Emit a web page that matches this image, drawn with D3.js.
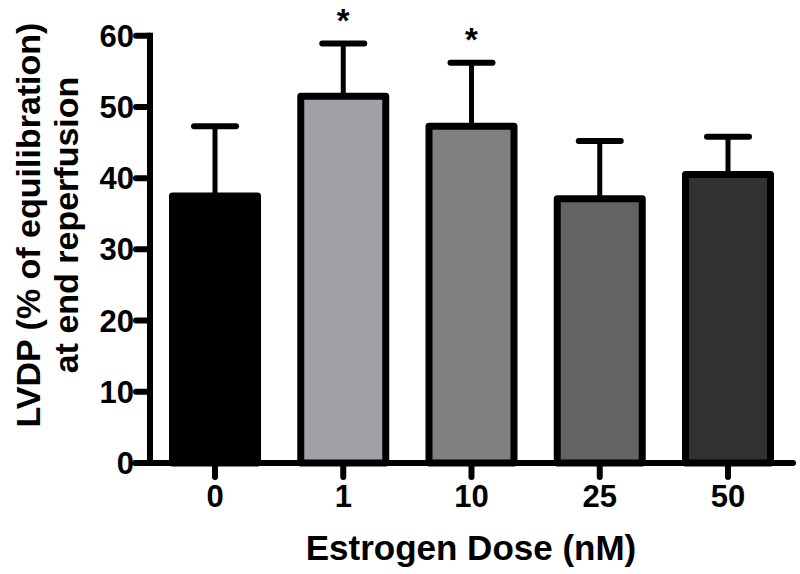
<!DOCTYPE html>
<html>
<head>
<meta charset="utf-8">
<script src="https://cdn.jsdelivr.net/npm/d3@7"></script>
<style>
  body { margin: 0; background: #fff; }
  svg { display: block; font-family: "Liberation Sans", Arial, sans-serif; font-weight: bold; }
</style>
</head>
<body>
<svg id="viz" width="800" height="574"></svg>
<script>
// LVDP at end reperfusion by estrogen dose
const doses = ["0", "1", "10", "25", "50"];
const means = [37.5, 51.5, 47.3, 37.1, 40.5];
const errUpper = [47.3, 58.9, 56.2, 45.2, 45.8];
const fills = ["#000000", "#a2a1a6", "#808080", "#636363", "#323232"];
const significant = [false, true, true, false, false];
const yTicks = [0, 10, 20, 30, 40, 50, 60];

const svg = d3.select("#viz");

const yScale = d3.scaleLinear().domain([0, 60]).range([463, 35.7]);
const xScale = d3.scalePoint().domain(doses).range([215, 728]);

const barW = 85;
const axisX = 150;

// error bars (drawn first so bars sit on top)
doses.forEach((d, i) => {
    const cx = xScale(d);
    svg.append("line")
        .attr("x1", cx).attr("x2", cx)
        .attr("y1", yScale(means[i])).attr("y2", yScale(errUpper[i]))
        .attr("stroke", "#000").attr("stroke-width", 5);
    svg.append("line")
        .attr("x1", cx - 21).attr("x2", cx + 21)
        .attr("y1", yScale(errUpper[i])).attr("y2", yScale(errUpper[i]))
        .attr("stroke", "#000").attr("stroke-width", 6)
        .attr("stroke-linecap", "round");
    if (significant[i]) {
        svg.append("text")
            .attr("x", cx)
            .attr("y", yScale(errUpper[i]) - 12)
            .attr("text-anchor", "middle")
            .attr("font-size", "33px")
            .text("*");
    }
});

// bars
doses.forEach((d, i) => {
    const cx = xScale(d);
    svg.append("rect")
        .attr("x", cx - barW / 2)
        .attr("y", yScale(means[i]))
        .attr("width", barW)
        .attr("height", yScale(0) - yScale(means[i]))
        .attr("fill", fills[i])
        .attr("stroke", "#000")
        .attr("stroke-width", 7)
        .attr("stroke-linejoin", "round");
});

// y axis
svg.append("line")
    .attr("x1", axisX).attr("x2", axisX)
    .attr("y1", yScale(60) - 3).attr("y2", yScale(0))
    .attr("stroke", "#000").attr("stroke-width", 6);

yTicks.forEach(t => {
    svg.append("line")
        .attr("x1", axisX - 14).attr("x2", axisX)
        .attr("y1", yScale(t)).attr("y2", yScale(t))
        .attr("stroke", "#000").attr("stroke-width", 6)
        .attr("stroke-linecap", "round");
    svg.append("text")
        .attr("x", axisX - 16)
        .attr("y", yScale(t) + 11)
        .attr("text-anchor", "end")
        .attr("font-size", "31px")
        .text(t);
});

// x axis
svg.append("line")
    .attr("x1", 135).attr("x2", 793)
    .attr("y1", yScale(0)).attr("y2", yScale(0))
    .attr("stroke", "#000").attr("stroke-width", 6)
    .attr("stroke-linecap", "round");

doses.forEach(d => {
    svg.append("line")
        .attr("x1", xScale(d)).attr("x2", xScale(d))
        .attr("y1", yScale(0)).attr("y2", yScale(0) + 14)
        .attr("stroke", "#000").attr("stroke-width", 6)
        .attr("stroke-linecap", "round");
    svg.append("text")
        .attr("x", xScale(d))
        .attr("y", 507)
        .attr("text-anchor", "middle")
        .attr("font-size", "31px")
        .text(d);
});

// axis titles
svg.append("text")
    .attr("x", 471)
    .attr("y", 560)
    .attr("text-anchor", "middle")
    .attr("font-size", "35px")
    .text("Estrogen Dose (nM)");

const yTitle = svg.append("text")
    .attr("transform", "translate(0,225) rotate(-90)")
    .attr("text-anchor", "middle")
    .attr("font-size", "34px");
yTitle.append("tspan").attr("x", 0).attr("y", 40).text("LVDP (% of equilibration)");
yTitle.append("tspan").attr("x", 0).attr("y", 78).text("at end reperfusion");
</script>
</body>
</html>
